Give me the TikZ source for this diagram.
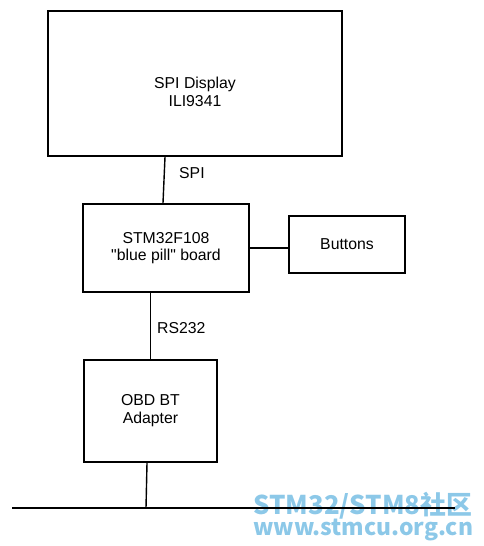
\documentclass[tikz,border=0pt]{standalone}
\usepackage{fontspec}
\usepackage{graphicx}
\setmainfont{Liberation Sans}
\newfontfamily\cjk{Noto Sans CJK SC}
\definecolor{markblue}{RGB}{140,200,232}

\begin{document}
\begin{tikzpicture}[x=1pt,y=-1pt,
  box/.style={draw,line width=2pt,align=center,inner sep=0pt,
    font=\fontsize{15.8}{18}\selectfont},
  wire/.style={line width=1.4pt},
  tag/.style={anchor=west,inner sep=0pt,font=\fontsize{15.8}{18}\selectfont},
  wmark/.style={anchor=base west,inner sep=0pt,text=markblue,
    font=\cjk\bfseries\fontsize{26}{26}\selectfont}]
\useasboundingbox (0,0) rectangle (483,546);

\node[box,minimum width=294,minimum height=145,
  label={[align=center,yshift=-8pt,font=\fontsize{15.8}{18}\selectfont]center:SPI Display\\ILI9341}]
  (disp) at (195,83.5) {};
\node[box,minimum width=166,minimum height=88] (stm) at (166,248)
  {STM32F108\\[-1pt]\textquotedbl blue pill\textquotedbl{} board};
\node[box,minimum width=116,minimum height=57] (btn) at (347,244.5) {Buttons};
\node[box,minimum width=133,minimum height=102] (obd) at (150.5,411) {OBD BT\\Adapter};

% watermark
\node[wmark] (wm1) at (253,514) {\resizebox{219pt}{!}{STM32/STM8社区}};
\node[wmark] (wm2) at (253,535) {\resizebox{220pt}{!}{www.stmcu.org.cn}};

% bus
\coordinate (busL) at (12,508);
\coordinate (busR) at (455,508);
\coordinate (tap) at (146,508);
\draw[wire] (busL) -- (busR);

\draw[wire] ([xshift=-30]disp.south) -- ([xshift=-3]stm.north);
\draw[wire] (stm.east) -- (stm.east -| btn.west);
\draw[wire] (obd.north |- stm.south) -- (obd.north);
\draw[wire] ([xshift=-3.5]obd.south) -- (tap);

\node[tag] (spi) at (179,173) {SPI};
\node[tag] (rs) at (157,328) {RS232};
\end{tikzpicture}
\end{document}
